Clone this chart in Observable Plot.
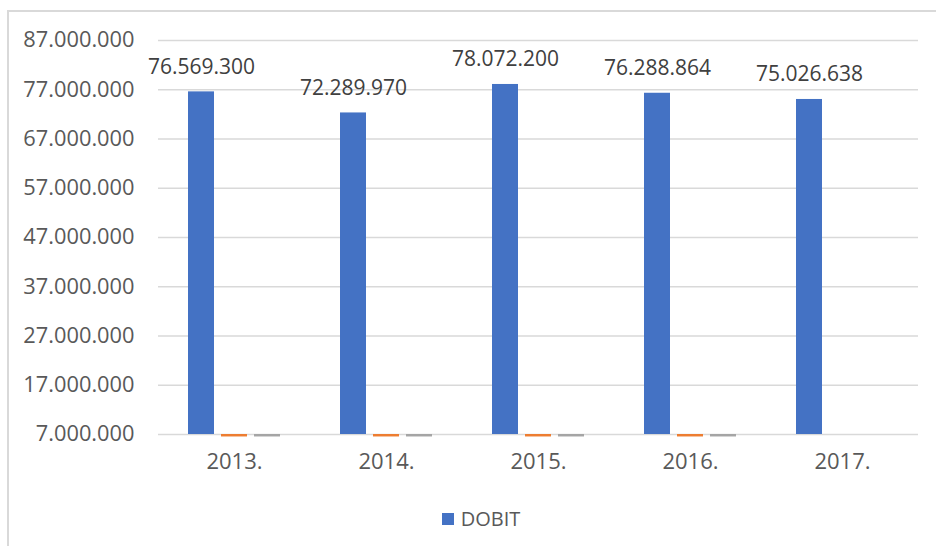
<!DOCTYPE html>
<html>
<head>
<meta charset="utf-8">
<script src="https://cdn.jsdelivr.net/npm/d3@7"></script>
<script src="https://cdn.jsdelivr.net/npm/@observablehq/plot@0.6"></script>
<style>
  body { margin: 0; background: #fff; font-family: "Open Sans", sans-serif; }
  #wrap { position: relative; width: 936px; height: 546px; overflow: hidden; background: #fff; }
  #chart { position: absolute; left: 0; top: 0; }
  .bt { position: absolute; left: 7px; top: 10px; width: 929px; height: 2px; background: #d9d9d9; }
  .bl { position: absolute; left: 7px; top: 10px; width: 2px; height: 536px; background: #d9d9d9; }
  #legend { position: absolute; top: 505px; left: 13px; width: 936px; text-align: center; font-size: 20px; color: #595959; }
  #legend span.sw { display: inline-block; width: 12px; height: 12px; background: #4472C4; margin-right: 7px; vertical-align: 1px; }
</style>
</head>
<body>
<div id="wrap">
  <div class="bt"></div>
  <div class="bl"></div>
  <div id="chart"></div>
  <div id="legend"><span class="sw"></span>DOBIT</div>
</div>
<script>
const years = ["2013.", "2014.", "2015.", "2016.", "2017."];
const seriesNames = ["DOBIT", "Serija 2", "Serija 3"];
const seriesColors = ["#4472C4", "#ED7D31", "#A5A5A5"];
const dobit = [76569300, 72289970, 78072200, 76288864, 75026638];
const serija2 = [6500000, 6500000, 6500000, 6500000, null];
const serija3 = [6500000, 6500000, 6500000, 6500000, null];
const yTicks = [7000000, 17000000, 27000000, 37000000, 47000000, 57000000, 67000000, 77000000, 87000000];
const yMin = 7000000, yMax = 87000000;

const locale = d3.formatLocale({decimal: ",", thousands: ".", grouping: [3], currency: ["", ""]});
const fmt = locale.format(",d");

const rows = [];
[dobit, serija2, serija3].forEach((vals, si) => {
  vals.forEach((v, i) => {
    if (v != null) rows.push({year: years[i], series: seriesNames[si], value: v});
  });
});
const labelRows = rows.filter(d => d.series === "DOBIT");

const chart = Plot.plot({
  width: 936,
  height: 495,
  marginLeft: 157,
  marginRight: 17,
  marginTop: 40,
  marginBottom: 61,
  style: {fontFamily: "Open Sans, sans-serif", background: "transparent"},
  fx: {domain: years, padding: 0, label: null},
  x: {domain: seriesNames, axis: null, paddingInner: 0.2, paddingOuter: 0.87},
  y: {domain: [yMin, yMax], axis: null, label: null},
  color: {domain: seriesNames, range: seriesColors},
  marks: [
    Plot.gridY(yTicks, {stroke: "#d9d9d9", strokeOpacity: 1, strokeWidth: 1.5}),
    Plot.rectY(rows, {fx: "year", x: "series", y1: () => yMin, y2: "value", fill: "series"}),
    Plot.text(labelRows, {fx: "year", x: "series", y: "value", text: d => fmt(d.value), dy: -25, fontSize: 21, fill: "#404040"}),
    Plot.axisY(yTicks, {tickSize: 0, tickPadding: 24, tickFormat: fmt, fontSize: 21.8, fill: "#595959", label: null}),
    Plot.axisFx({anchor: "bottom", tickSize: 0, tickPadding: 19, fontSize: 22, fill: "#595959", label: null})
  ]
});
document.getElementById("chart").appendChild(chart);
</script>
</body>
</html>
